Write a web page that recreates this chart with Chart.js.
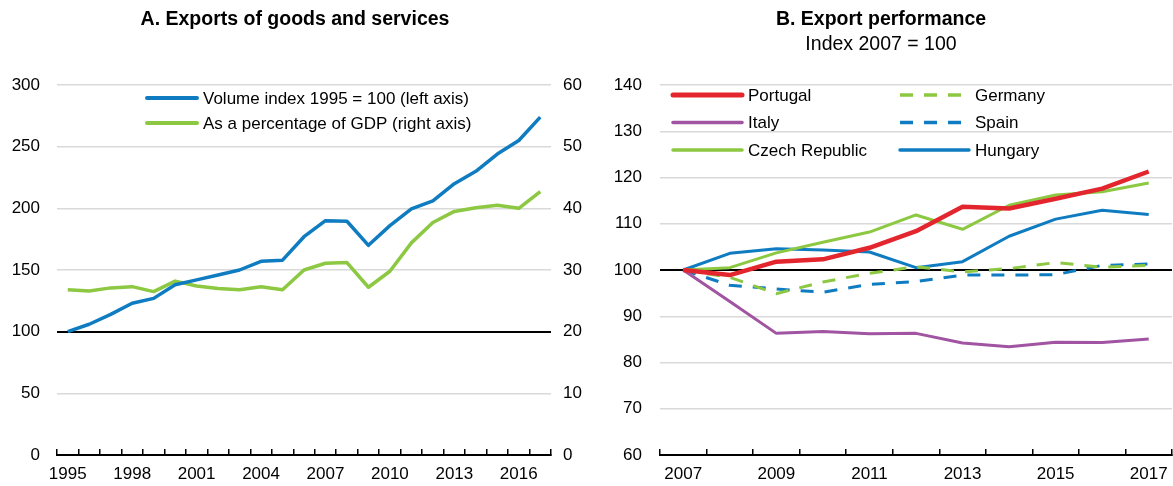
<!DOCTYPE html>
<html><head><meta charset="utf-8">
<script src="https://cdn.jsdelivr.net/npm/chart.js@4.4.1/dist/chart.umd.min.js"></script>
<style>
html,body{margin:0;padding:0;background:#fff;}
#wrap{position:relative;width:1173px;height:486px;overflow:hidden;background:#fff;}
.box{position:absolute;top:0;height:486px;}
canvas{display:block;}
</style></head><body>
<div id="wrap">
<div class="box" style="left:0;width:590px"><canvas id="cA" width="590" height="486" style="width:590px;height:486px"></canvas></div>
<div class="box" style="left:590px;width:583px"><canvas id="cB" width="583" height="486" style="width:583px;height:486px"></canvas></div>
</div>
<script>
// ---------- Panel A data ----------
const yearsA = ['1995','1996','1997','1998','1999','2000','2001','2002','2003','2004','2005','2006','2007','2008','2009','2010','2011','2012','2013','2014','2015','2016','2017'];
const volumeIndex = [100,106,114,123,127,138,142,146,150,157,158,177,190,189.5,170,186,199.5,206,220,230,244,255,274];
const exportsPctGDP = [26.8,26.6,27.1,27.3,26.5,28.2,27.4,27.0,26.8,27.3,26.8,30.0,31.1,31.2,27.2,29.8,34.4,37.7,39.5,40.1,40.5,40.0,42.7];
const labelVolume = 'Volume index 1995 = 100 (left axis)';
const labelPct = 'As a percentage of GDP (right axis)';
const titleA = 'A. Exports of goods and services';

// ---------- Panel B data ----------
const yearsB = ['2007','2008','2009','2010','2011','2012','2013','2014','2015','2016','2017'];
const portugal = [100,98.9,101.8,102.3,104.8,108.4,113.7,113.3,115.4,117.6,121.3];
const italy    = [100,93.2,86.3,86.7,86.2,86.3,84.2,83.4,84.4,84.3,85.1];
const czech    = [100,100.5,103.7,106.0,108.2,111.9,108.8,114.0,116.2,116.9,118.8];
const germany  = [100,98.4,94.9,97.4,99.3,100.7,99.6,100.3,101.6,100.6,101.0];
const spain    = [100,96.7,95.9,95.2,96.9,97.5,98.9,98.9,99.0,101.0,101.3];
const hungary  = [100,103.6,104.6,104.3,103.9,100.5,101.8,107.3,111.0,112.9,112.0];
const titleB = 'B. Export performance';
const subtitleB = 'Index 2007 = 100';

const BLUE = '#0f7cc1', GREEN = '#8cc841', RED = '#e3262d', PURPLE = '#a154a1';
const FONT = '"Liberation Sans Narrow", "Liberation Sans", Arial, sans-serif';
const FS = 17;
Chart.defaults.font.family = FONT;
Chart.defaults.font.size = FS;
Chart.defaults.color = '#000';

const customLegend = {
  id: 'customLegend',
  afterDraw(chart, args, opts) {
    if (!opts || !opts.show) return;
    const ctx = chart.ctx;
    ctx.save();
    chart.data.datasets.forEach((ds, i) => {
      const col = Math.floor(i / opts.rows), row = i % opts.rows;
      const x = opts.x + col * opts.colW, y = opts.y + row * opts.rowH;
      ctx.beginPath();
      ctx.strokeStyle = ds.borderColor;
      ctx.lineWidth = ds.borderWidth + 0.5;
      ctx.lineCap = ds.borderDash ? 'butt' : 'round';
      ctx.setLineDash(ds.borderDash || []);
      ctx.moveTo(x, y); ctx.lineTo(x + opts.lineLen, y);
      ctx.stroke();
      ctx.setLineDash([]);
      ctx.fillStyle = '#000';
      ctx.font = FS + 'px ' + FONT;
      ctx.textBaseline = 'middle';
      ctx.textAlign = 'left';
      ctx.fillText(ds.label, x + opts.lineLen + opts.gap, y + 1);
    });
    ctx.restore();
  }
};

function gridColor(base, hide) {
  return (c) => {
    if (!c.tick) return '#d9d9d9';
    if (c.tick.value === base) return '#000';
    if (c.tick.value === hide) return 'rgba(0,0,0,0)';
    return '#d9d9d9';
  };
}
function gridWidth(base) {
  return (c) => (c.tick && c.tick.value === base) ? 2 : 1.5;
}

function xScale(every) {
  return {
    type: 'category',
    offset: true,
    grid: { offset: true, drawOnChartArea: false, drawTicks: true, tickLength: -6, color: '#000', lineWidth: 1.5 },
    border: { display: true, color: '#000', width: 2 },
    ticks: {
      autoSkip: false, maxRotation: 0, padding: 4,
      font: { size: FS, lineHeight: 2.47 },
      callback: function (v, i) { return i % every === 0 ? this.getLabelForValue(v) : ''; }
    },
    afterFit: (s) => { s.height = 31; }
  };
}

new Chart(document.getElementById('cA'), {
  type: 'line',
  data: {
    labels: yearsA,
    datasets: [
      { label: labelVolume, data: volumeIndex, yAxisID: 'y', borderColor: BLUE, borderWidth: 3.5, pointRadius: 0, tension: 0, borderJoinStyle: 'round' },
      { label: labelPct, data: exportsPctGDP, yAxisID: 'y2', borderColor: GREEN, borderWidth: 3.5, pointRadius: 0, tension: 0, borderJoinStyle: 'round' }
    ]
  },
  options: {
    responsive: false, animation: false,
    layout: { padding: { left: 0, right: 0, top: 0, bottom: 0 } },
    plugins: {
      legend: { display: false }, tooltip: { enabled: false },
      title: { display: true, text: titleA, font: { size: 19.5, weight: 'bold' }, padding: { top: 8, bottom: 53.6 } },
      customLegend: { show: true, x: 147, y: 98, rows: 2, rowH: 25, colW: 0, lineLen: 50, gap: 6 }
    },
    scales: {
      x: xScale(3),
      y: {
        position: 'left', min: 0, max: 300,
        ticks: { stepSize: 50, padding: 17 },
        grid: { drawTicks: false, tickLength: 0, color: gridColor(100, 0), lineWidth: gridWidth(100) },
        border: { display: false },
        afterFit: (s) => { s.width = 57; }
      },
      y2: {
        position: 'right', min: 0, max: 60,
        ticks: { stepSize: 10, padding: 12 },
        grid: { drawOnChartArea: false, drawTicks: false, tickLength: 0 },
        border: { display: false },
        afterFit: (s) => { s.width = 39; }
      }
    }
  },
  plugins: [customLegend]
});

new Chart(document.getElementById('cB'), {
  type: 'line',
  data: {
    labels: yearsB,
    datasets: [
      { label: 'Portugal', data: portugal, borderColor: RED, borderWidth: 4.5, pointRadius: 0, tension: 0, borderJoinStyle: 'round' },
      { label: 'Italy', data: italy, borderColor: PURPLE, borderWidth: 3, pointRadius: 0, tension: 0, borderJoinStyle: 'round' },
      { label: 'Czech Republic', data: czech, borderColor: GREEN, borderWidth: 3, pointRadius: 0, tension: 0, borderJoinStyle: 'round' },
      { label: 'Germany', data: germany, borderColor: GREEN, borderWidth: 3, borderDash: [13, 11], pointRadius: 0, tension: 0 },
      { label: 'Spain', data: spain, borderColor: BLUE, borderWidth: 3, borderDash: [13, 11], pointRadius: 0, tension: 0 },
      { label: 'Hungary', data: hungary, borderColor: BLUE, borderWidth: 3, pointRadius: 0, tension: 0, borderJoinStyle: 'round' }
    ]
  },
  options: {
    responsive: false, animation: false,
    layout: { padding: { left: 0, right: 1, top: 0, bottom: 0 } },
    plugins: {
      legend: { display: false }, tooltip: { enabled: false },
      title: { display: true, text: titleB, font: { size: 19.5, weight: 'bold' }, padding: { top: 8, bottom: 2 } },
      subtitle: { display: true, text: subtitleB, font: { size: 19.5 }, padding: { top: 0, bottom: 28.2 } },
      customLegend: { show: true, x: 83, y: 95, rows: 3, rowH: 27.5, colW: 227, lineLen: 69, gap: 6 }
    },
    scales: {
      x: xScale(2),
      y: {
        position: 'left', min: 60, max: 140,
        ticks: { stepSize: 10, padding: 18 },
        grid: { drawTicks: false, tickLength: 0, color: gridColor(100, 60), lineWidth: gridWidth(100) },
        border: { display: false },
        afterFit: (s) => { s.width = 70; }
      }
    }
  },
  plugins: [customLegend]
});
</script>
</body></html>
